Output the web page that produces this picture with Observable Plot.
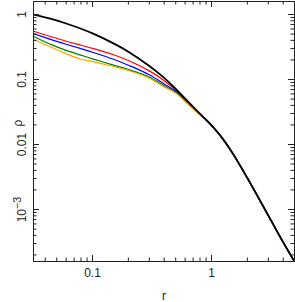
<!DOCTYPE html>
<html>
<head>
<meta charset="utf-8">
<script src="https://cdn.jsdelivr.net/npm/d3@7"></script>
<script src="https://cdn.jsdelivr.net/npm/@observablehq/plot@0.6"></script>
<style>
  html, body { margin: 0; padding: 0; background: #fff; }
  #chart svg { display: block; }
</style>
</head>
<body>
<div id="chart"></div>
<script>
// radius grid (r)
const rValues = [0.032, 0.045, 0.06, 0.08, 0.1, 0.15, 0.2, 0.3, 0.4, 0.5, 0.7, 0.85, 1, 1.2, 1.5, 2, 3, 4, 5];
// density profiles (rho)
const blackRho  = [1.0, 0.856, 0.727, 0.603, 0.512, 0.360, 0.268, 0.1614, 0.1059, 0.0714, 0.0380, 0.0267, 0.0197, 0.01333, 0.00738, 0.00305, 0.000809, 0.000313, 0.000156];
const redRho    = [0.553, 0.454, 0.388, 0.337, 0.302, 0.240, 0.196, 0.1357, 0.0959, 0.0689, 0.0366, 0.0264, 0.0196, 0.01331, 0.00737, 0.00305, 0.000809, 0.000313, 0.000156];
const blueRho   = [0.505, 0.411, 0.349, 0.298, 0.263, 0.205, 0.166, 0.1185, 0.0856, 0.0654, 0.0360, 0.0262, 0.0196, 0.01329, 0.00736, 0.00304, 0.000808, 0.000313, 0.000156];
const greenRho  = [0.459, 0.344, 0.281, 0.2366, 0.208, 0.1666, 0.1425, 0.1089, 0.0803, 0.0631, 0.0356, 0.0260, 0.0195, 0.01327, 0.00735, 0.00304, 0.000807, 0.000312, 0.000155];
const orangeRho = [0.412, 0.314, 0.248, 0.2046, 0.1884, 0.1585, 0.1375, 0.105, 0.0767, 0.0614, 0.0351, 0.0258, 0.0195, 0.01325, 0.00734, 0.00303, 0.000806, 0.000312, 0.000155];

const seriesNames  = ["red", "blue", "green", "orange", "black"];
const seriesValues = [redRho, blueRho, greenRho, orangeRho, blackRho];
const seriesColors = ["#ff2a2a", "#2a2aff", "#00dd00", "#ffa000", "#000000"];

// tick labels
const xTicks = [0.1, 1];
const xTickLabels = ["0.1", "1"];
const yTicks = [0.001, 0.01, 0.1, 1];
const yTickLabels = ["10^−3", "0.01", "0.1", "1"];

const xLabel = "r";
const yLabel = "ρ";

// build table
const table = [];
seriesNames.forEach((name, s) => {
  rValues.forEach((r, i) => table.push({series: name, r, rho: seriesValues[s][i]}));
});

// minor tick positions (log decades 2..9)
function minorTicks(lo, hi) {
  const out = [];
  for (let e = -5; e <= 2; e++) {
    for (let m = 2; m <= 9; m++) {
      const v = m * Math.pow(10, e);
      if (v > lo && v < hi) out.push(v);
    }
  }
  return out;
}
const xDomain = [0.0319, 4.98];
const yDomain = [1.585e-4, 1.585];
const xMinor = minorTicks(xDomain[0], xDomain[1]);
const yMinor = minorTicks(yDomain[0], yDomain[1]);

const W = 295, H = 302, ML = 33, MR = 1, MT = 1, MB = 41;
const fw = W - ML - MR, fh = H - MT - MB;
const major = 6, minor = 3.5;
const tickColor = "#222";

const xFmt = new Map(xTicks.map((d, i) => [d, xTickLabels[i]]));
const yFmt = new Map(yTicks.map((d, i) => [d, yTickLabels[i]]));

const chart = Plot.plot({
  width: W, height: H,
  marginLeft: ML, marginRight: MR, marginTop: MT, marginBottom: MB,
  x: {type: "log", domain: xDomain},
  y: {type: "log", domain: yDomain},
  color: {domain: seriesNames, range: seriesColors},
  style: {fontFamily: "'Liberation Sans', Arial, sans-serif", fontSize: "12px", background: "#fff", color: "#222"},
  marks: [
    Plot.line(table.filter(d => d.series !== "black"), {x: "r", y: "rho", z: "series", stroke: "series", strokeWidth: 1.2, curve: "catmull-rom", clip: true}),
    Plot.line(table.filter(d => d.series === "black"), {x: "r", y: "rho", stroke: "series", strokeWidth: 1.8, curve: "catmull-rom", clip: true}),
    Plot.frame({stroke: tickColor, strokeWidth: 1}),
    // inward ticks, bottom & top
    Plot.tickX(xTicks, {x: d => d, insetTop: fh - major, stroke: tickColor}),
    Plot.tickX(xMinor, {x: d => d, insetTop: fh - minor, stroke: tickColor}),
    Plot.tickX(xTicks, {x: d => d, insetBottom: fh - major, stroke: tickColor}),
    Plot.tickX(xMinor, {x: d => d, insetBottom: fh - minor, stroke: tickColor}),
    // inward ticks, left & right
    Plot.tickY(yTicks, {y: d => d, insetRight: fw - major, stroke: tickColor}),
    Plot.tickY(yMinor, {y: d => d, insetRight: fw - minor, stroke: tickColor}),
    Plot.tickY(yTicks, {y: d => d, insetLeft: fw - major, stroke: tickColor}),
    Plot.tickY(yMinor, {y: d => d, insetLeft: fw - minor, stroke: tickColor}),
    Plot.axisX(xTicks, {tickSize: 0, tickPadding: 7, tickFormat: d => xFmt.get(d), label: null, fill: "#222"}),
    Plot.axisY(yTicks, {tickSize: 0, tickPadding: 8, tickRotate: -90, tickFormat: d => yFmt.get(d), label: null, fill: "#222"}),
    Plot.text([xLabel], {frameAnchor: "bottom", dy: 38, lineAnchor: "bottom", text: d => d, fill: "#222", fontSize: 12}),
    Plot.text([yLabel], {frameAnchor: "left", dx: -12, dy: -5, rotate: -90, lineAnchor: "bottom", text: d => d, fill: "#222", fontSize: 12})
  ]
});

// superscript post-processing for "10^−3"
chart.querySelectorAll("text").forEach(t => {
  const s = t.textContent;
  if (s.includes("^")) {
    const [base, exp] = s.split("^");
    t.textContent = base;
    const ts = document.createElementNS("http://www.w3.org/2000/svg", "tspan");
    ts.setAttribute("dy", "-0.4em");
    ts.setAttribute("font-size", "0.9em");
    ts.textContent = exp;
    t.appendChild(ts);
  }
});

document.getElementById("chart").appendChild(chart);
</script>
</body>
</html>
